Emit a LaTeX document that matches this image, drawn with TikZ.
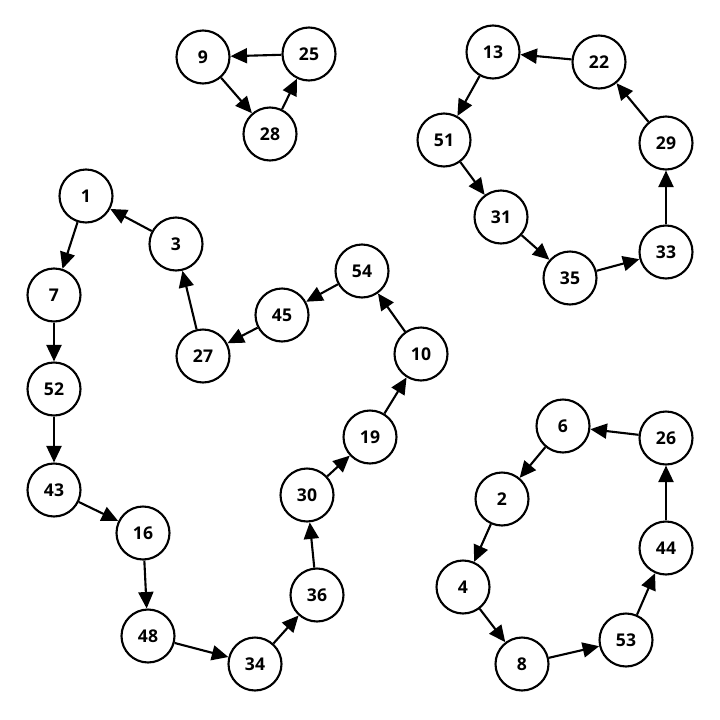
\documentclass[tikz,border=0pt]{standalone}
\usepackage{fontspec}
\setmainfont{Open Sans}
\usepackage{tikz}
\usetikzlibrary{arrows.meta}
\definecolor{cyclegray}{RGB}{0,0,0}

\begin{document}
\begin{tikzpicture}[x=0.02cm, y=-0.02cm,
  vnode/.style={circle, draw=cyclegray, line width=1.2pt, fill=white,
    minimum size=1.06cm, inner sep=0pt, font=\bfseries\fontsize{10}{12}\selectfont},
  edge/.style={-{Triangle[length=0.33cm, width=0.3cm]}, line width=1.2pt, cyclegray}]
\useasboundingbox (0,0) rectangle (720,720);
% cycle 9-25-28
\node[vnode] (n9) at (203,57) {9};
\node[vnode] (n25) at (309,54) {25};
\node[vnode] (n28) at (270,134) {28};
% cycle of seven, top right
\node[vnode] (n13) at (493,52) {13};
\node[vnode] (n22) at (599,62) {22};
\node[vnode] (n51) at (444,140) {51};
\node[vnode] (n29) at (666,143) {29};
\node[vnode] (n31) at (501,217) {31};
\node[vnode] (n33) at (666,252) {33};
\node[vnode] (n35) at (570,278) {35};
% long cycle, left
\node[vnode] (n1) at (86,196) {1};
\node[vnode] (n3) at (176,244) {3};
\node[vnode] (n7) at (54,295) {7};
\node[vnode] (n54) at (362,271) {54};
\node[vnode] (n45) at (282,315) {45};
\node[vnode] (n27) at (203,356) {27};
\node[vnode] (n10) at (421,354) {10};
\node[vnode] (n52) at (54,389) {52};
\node[vnode] (n19) at (370,437) {19};
\node[vnode] (n43) at (54,490) {43};
\node[vnode] (n16) at (143,533) {16};
\node[vnode] (n30) at (307,495) {30};
\node[vnode] (n36) at (317,595) {36};
\node[vnode] (n48) at (148,636) {48};
\node[vnode] (n34) at (255,664) {34};
% cycle of seven, bottom right
\node[vnode] (n6) at (563,426) {6};
\node[vnode] (n26) at (666,438) {26};
\node[vnode] (n2) at (502,499) {2};
\node[vnode] (n44) at (666,548) {44};
\node[vnode] (n4) at (463,587) {4};
\node[vnode] (n53) at (626,640) {53};
\node[vnode] (n8) at (522,664) {8};
% arrows
\foreach \a/\b in {25/9, 9/28, 28/25,
    22/13, 13/51, 51/31, 31/35, 35/33, 33/29, 29/22,
    3/1, 1/7, 7/52, 52/43, 43/16, 16/48, 48/34, 34/36, 36/30, 30/19, 19/10, 10/54, 54/45, 45/27, 27/3,
    26/6, 6/2, 2/4, 4/8, 8/53, 53/44, 44/26}
  \draw[edge] (n\a) -- (n\b);
\end{tikzpicture}
\end{document}
